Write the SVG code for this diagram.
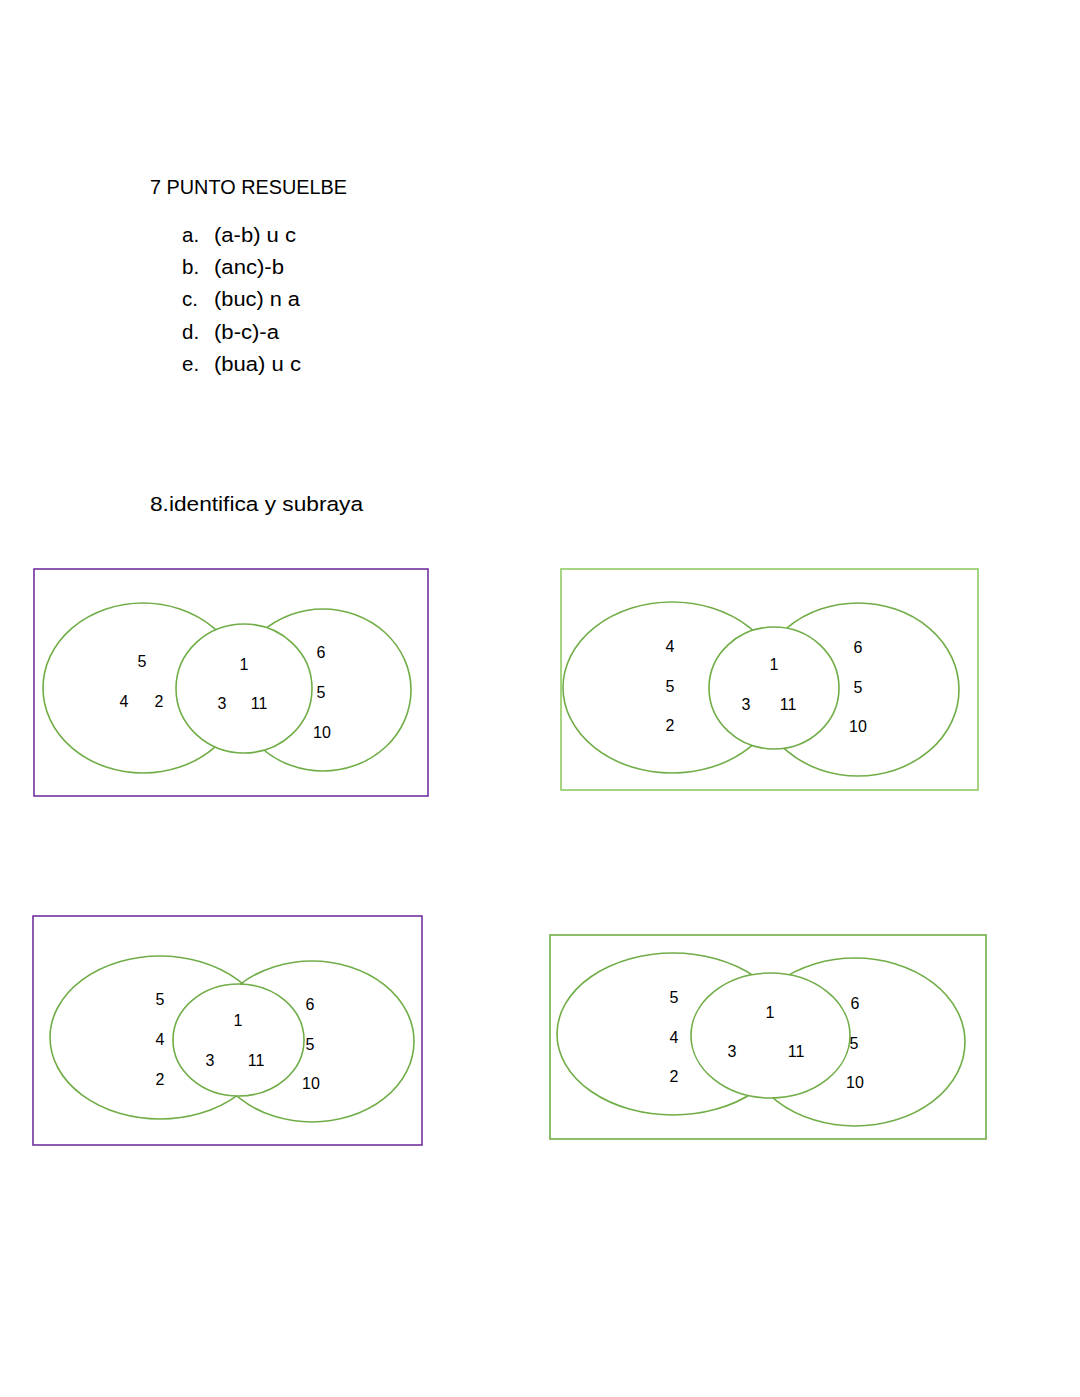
<svg xmlns="http://www.w3.org/2000/svg" width="1080" height="1397" viewBox="0 0 1080 1397">
<style>
.t{font-family:"Liberation Sans",Arial,sans-serif;fill:#000}
.h{font-size:20.5px}
.n{font-size:16px;text-anchor:middle}
.e{fill:none;stroke:#70AD47;stroke-width:1.6}
.m{fill:#fff;stroke:#70AD47;stroke-width:1.6}
.rp{fill:#fff;stroke:#7030A0;stroke-width:1.6}
.rg{fill:#fff;stroke:#8FCB62;stroke-width:1.6}
.rg2{fill:#fff;stroke:#70AD47;stroke-width:1.6}
</style>
<rect width="1080" height="1397" fill="#fff"/>
<g id="text">
<text class="t h" x="150" y="194" textLength="197" lengthAdjust="spacingAndGlyphs">7 PUNTO RESUELBE</text>
<text class="t h" x="182" y="242">a.</text><text class="t h" x="214" y="242" textLength="82" lengthAdjust="spacingAndGlyphs">(a-b) u c</text>
<text class="t h" x="182" y="274">b.</text><text class="t h" x="214" y="274" textLength="70" lengthAdjust="spacingAndGlyphs">(anc)-b</text>
<text class="t h" x="182" y="306">c.</text><text class="t h" x="214" y="306" textLength="86" lengthAdjust="spacingAndGlyphs">(buc) n a</text>
<text class="t h" x="182" y="339">d.</text><text class="t h" x="214" y="339" textLength="65" lengthAdjust="spacingAndGlyphs">(b-c)-a</text>
<text class="t h" x="182" y="371">e.</text><text class="t h" x="214" y="371" textLength="87" lengthAdjust="spacingAndGlyphs">(bua) u c</text>
<text class="t h" x="150" y="511" textLength="213" lengthAdjust="spacingAndGlyphs">8.identifica y subraya</text>
</g>
<g id="diagram1">
<rect class="rp" x="34" y="569" width="394" height="227"/>
<ellipse class="e" cx="143" cy="688" rx="100" ry="85"/>
<ellipse class="e" cx="323" cy="690" rx="88" ry="81"/>
<ellipse class="m" cx="244" cy="688.5" rx="68" ry="64.5"/>
<text class="t n" x="142" y="667">5</text>
<text class="t n" x="124" y="707">4</text>
<text class="t n" x="159" y="707">2</text>
<text class="t n" x="244" y="670">1</text>
<text class="t n" x="222" y="709">3</text>
<text class="t n" x="259" y="709">11</text>
<text class="t n" x="321" y="658">6</text>
<text class="t n" x="321" y="698">5</text>
<text class="t n" x="322" y="738">10</text>
</g>
<g id="diagram2">
<rect class="rg" x="561" y="569" width="417" height="221"/>
<ellipse class="e" cx="672" cy="687.5" rx="109" ry="85.5"/>
<ellipse class="e" cx="858" cy="689.5" rx="101" ry="86.5"/>
<ellipse class="m" cx="774" cy="688" rx="65" ry="61"/>
<text class="t n" x="670" y="652">4</text>
<text class="t n" x="670" y="692">5</text>
<text class="t n" x="670" y="731">2</text>
<text class="t n" x="774" y="670">1</text>
<text class="t n" x="746" y="710">3</text>
<text class="t n" x="788" y="710">11</text>
<text class="t n" x="858" y="653">6</text>
<text class="t n" x="858" y="693">5</text>
<text class="t n" x="858" y="732">10</text>
</g>
<g id="diagram3">
<rect class="rp" x="33" y="916" width="389" height="229"/>
<ellipse class="e" cx="160" cy="1037.5" rx="110" ry="81.5"/>
<ellipse class="e" cx="312" cy="1041.5" rx="102" ry="80.5"/>
<ellipse class="m" cx="238.5" cy="1040" rx="65.5" ry="56"/>
<text class="t n" x="160" y="1005">5</text>
<text class="t n" x="160" y="1045">4</text>
<text class="t n" x="160" y="1085">2</text>
<text class="t n" x="238" y="1026">1</text>
<text class="t n" x="210" y="1066">3</text>
<text class="t n" x="256" y="1066">11</text>
<text class="t n" x="310" y="1010">6</text>
<text class="t n" x="310" y="1050">5</text>
<text class="t n" x="311" y="1089">10</text>
</g>
<g id="diagram4">
<rect class="rg2" x="550" y="935" width="436" height="204"/>
<ellipse class="e" cx="673" cy="1034" rx="116" ry="81"/>
<ellipse class="e" cx="855" cy="1042" rx="110" ry="84"/>
<ellipse class="m" cx="770.5" cy="1035.5" rx="79.5" ry="62.5"/>
<text class="t n" x="674" y="1003">5</text>
<text class="t n" x="674" y="1043">4</text>
<text class="t n" x="674" y="1082">2</text>
<text class="t n" x="770" y="1018">1</text>
<text class="t n" x="732" y="1057">3</text>
<text class="t n" x="796" y="1057">11</text>
<text class="t n" x="855" y="1009">6</text>
<text class="t n" x="854" y="1049">5</text>
<text class="t n" x="855" y="1088">10</text>
</g>
<g id="connectors"/>
</svg>
